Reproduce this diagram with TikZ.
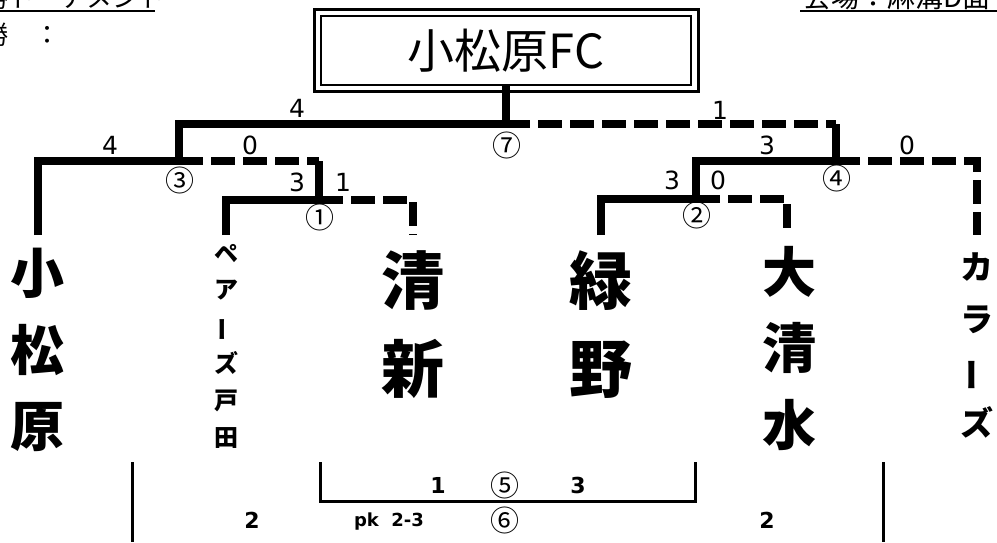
\documentclass[tikz,border=0pt]{standalone}
\usepackage{fontspec}
\newfontfamily\jp{Noto Sans CJK JP}
\newfontfamily\dv{DejaVu Sans}
\newcommand{\tatebar}{\rotatebox[origin=c]{90}{ー}}
\tikzset{
  win/.style={line width=8pt, line join=miter},
  lose/.style={line width=8pt, dash pattern=on 24pt off 8pt},
  thinln/.style={line width=3pt},
  sc/.style={font=\dv\fontsize{25}{25}\selectfont, inner sep=0pt},
  circ/.style={font=\jp\fontsize{29}{29}\selectfont, inner sep=0pt},
  bsc/.style={font=\dv\bfseries\fontsize{22}{22}\selectfont, inner sep=0pt},
  teamL/.style={font=\jp\bfseries\fontsize{54}{76.5}\selectfont, align=center, inner sep=0pt},
  teamM/.style={font=\jp\bfseries\fontsize{63}{88}\selectfont, align=center, inner sep=0pt},
  teamS/.style={font=\jp\bfseries\fontsize{24}{36.8}\selectfont, align=center, inner sep=0pt},
  teamK/.style={font=\jp\bfseries\fontsize{33}{52}\selectfont, align=center, inner sep=0pt},
  hdr/.style={font=\jp\fontsize{26}{26}\selectfont, inner sep=0pt, anchor=base west},
}
\begin{document}
\begin{tikzpicture}[x=1pt,y=-1pt]
\useasboundingbox (0,0) rectangle (997,542);
\fill[white] (0,0) rectangle (997,542);
\clip (0,0) rectangle (997,542);

% header texts (clipped at the top, as in the reference)
\node[hdr] (h1) at (-44,7) {決勝トーナメント};
\draw[line width=2pt] (0,11) -- (155,11);
\node[hdr] (h2) at (-44,44) {優勝　：};
\node[hdr, font=\jp\fontsize{28}{28}\selectfont] (h3) at (803,7) {会場：麻溝D面};
\draw[line width=2pt] (800,11) -- (997,11);

% title
\node[draw, line width=2pt, minimum width=370pt, minimum height=69pt, inner sep=0pt,
      font=\jp\fontsize{47}{47}\selectfont] (title) at (506,50.5) {小松原FC};
\draw[line width=3pt] ([shift={(-6,-6)}]title.north west) rectangle ([shift={(6,5)}]title.south east);

% coordinates
\coordinate (t1) at (37.5,235);
\coordinate (t2) at (226,235);
\coordinate (t3) at (413,235);
\coordinate (t4) at (601,235);
\coordinate (t5) at (787,235);
\coordinate (t6) at (977,235);
\coordinate (g1) at (319,200);
\coordinate (g2) at (696,199);
\coordinate (g3) at (179,161);
\coordinate (g4) at (836,161);
\coordinate (g7) at (506,124);

% bracket lines
\draw[lose] (g3) -- (g3 -| g1);
\draw[lose] (g1) -| (t3);
\draw[lose] (g7) -- (g7 -| g4);
\draw[lose] (g2) -| (t5);
\draw[lose] (g4) -| (t6);
\draw[win] (t1) |- (g3) |- (g7) -- (title.south);
\draw[win] (t2) |- (g1) -- (g1 |- g3);
\draw[win] (t4) |- (g2) |- (g4) -- (g4 |- g7);

% scores and match numbers
\node[sc] (s1) at (110,145) {4};
\node[sc] (s2) at (250,145) {0};
\node[sc] (s3) at (297,108) {4};
\node[circ] (c3) at (180,180) {③};
\node[sc] (s4) at (297,182) {3};
\node[sc] (s5) at (343,182) {1};
\node[circ] (c1) at (320,217) {①};
\node[circ] (c7) at (507,145) {⑦};
\node[sc] (s6) at (720,110) {1};
\node[sc] (s7) at (767,145) {3};
\node[sc] (s8) at (907,145) {0};
\node[circ] (c4) at (837,178) {④};
\node[sc] (s9) at (672,180) {3};
\node[sc] (s10) at (718,180) {0};
\node[circ] (c2) at (697,215) {②};

% team names
\node[teamL] (n1) at (37,350) {小\\松\\原};
\node[teamS] (n2) at (226,346) {ペ\\ア\\\tatebar\\ズ\\戸\\田};
\node[teamM] (n3) at (413,325) {清\\新};
\node[teamM] (n4) at (601,325) {緑\\野};
\node[teamL] (n5) at (789,348) {大\\清\\水};
\node[teamK] (n6) at (977,345) {カ\\ラ\\\tatebar\\ズ};

% lower bracket
\coordinate (b1a) at (132,462);
\coordinate (b1b) at (132,542);
\coordinate (b2a) at (320,462);
\coordinate (b2b) at (695,501);
\coordinate (b2c) at (695,462);
\coordinate (b3a) at (883,462);
\coordinate (b3b) at (883,542);
\draw[thinln] (b1a) -- (b1b);
\draw[thinln] (b2a) |- (b2b) -- (b2c);
\draw[thinln] (b3a) -- (b3b);

\node[bsc] (r1) at (438,485) {1};
\node[circ] (c5) at (505,485) {⑤};
\node[bsc] (r2) at (578,485) {3};
\node[circ] (c6) at (505,520) {⑥};
\node[bsc, font=\dv\bfseries\fontsize{18}{18}\selectfont] (pk) at (389,522) {pk\ \ 2-3};
\node[bsc] (r3) at (252,520) {2};
\node[bsc] (r4) at (767,520) {2};
\end{tikzpicture}
\end{document}
